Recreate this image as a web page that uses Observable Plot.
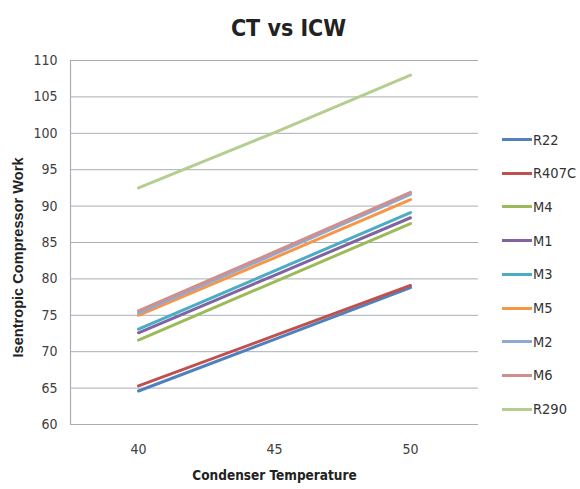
<!DOCTYPE html>
<html>
<head>
<meta charset="utf-8">
<script src="https://cdn.jsdelivr.net/npm/d3@7"></script>
<script src="https://cdn.jsdelivr.net/npm/@observablehq/plot@0.6"></script>
<style>
  html, body { margin: 0; padding: 0; background: #fff; }
  #wrap { position: relative; width: 580px; height: 489px; overflow: hidden; }
  #wrap svg { position: absolute; left: 0; top: 0; }
  .leg { position: absolute; left: 502px; font-family: "Liberation Sans Narrow", "DejaVu Sans Condensed", sans-serif; font-size: 14.5px; color: #333; display: flex; align-items: center; }
  .leg span.sw { display: inline-block; width: 30px; height: 3px; margin-right: 1px; }
</style>
</head>
<body>
<div id="wrap"></div>
<script>
const temps = [40, 45, 50];
const seriesNames = ["R22", "R407C", "M4", "M1", "M3", "M5", "M2", "M6", "R290"];
const R22   = [64.6, 71.7, 78.8];
const R407C = [65.3, 72.2, 79.1];
const M4    = [71.6, 79.6, 87.6];
const M1    = [72.6, 80.5, 88.4];
const M3    = [73.1, 81.1, 89.1];
const M5    = [75.0, 82.9, 90.9];
const M2    = [75.3, 83.4, 91.6];
const M6    = [75.6, 83.7, 91.9];
const R290  = [92.5, 100.1, 108.0];
const yTicks = [60, 65, 70, 75, 80, 85, 90, 95, 100, 105, 110];
const xTicks = [40, 45, 50];
const colors = ["#4f81bd", "#c0504d", "#9bbb59", "#8064a2", "#4bacc6", "#f79646", "#8faad2", "#cf8f8d", "#b6cd90"];

const valuesBySeries = [R22, R407C, M4, M1, M3, M5, M2, M6, R290];
const rows = [];
seriesNames.forEach((s, i) => valuesBySeries[i].forEach((v, j) => rows.push({series: s, t: temps[j], v})));

const narrow = '"Liberation Sans Narrow", "DejaVu Sans Condensed", sans-serif';

const chart = Plot.plot({
  width: 580,
  height: 489,
  marginLeft: 70,
  marginRight: 102,
  marginTop: 60,
  marginBottom: 65,
  style: {fontFamily: narrow, fontSize: "14px", color: "#404040", background: "transparent"},
  x: {domain: [37.5, 52.5], ticks: xTicks, tickSize: 0, tickPadding: 20, label: null, tickFormat: d => String(d)},
  y: {domain: [60, 110], ticks: yTicks, tickSize: 0, tickPadding: 13, label: null},
  color: {domain: seriesNames, range: colors},
  marks: [
    Plot.gridY(yTicks.filter(d => d > 60), {stroke: "#a9adb5", strokeOpacity: 1, strokeWidth: 1}),
    Plot.ruleY([60], {stroke: "#a9adb5", strokeWidth: 1.2}),
    Plot.ruleX([37.5], {stroke: "#a9adb5", strokeWidth: 1.2}),
    Plot.line(rows, {x: "t", y: "v", z: "series", stroke: "series", strokeWidth: 3, curve: "linear"}),
    Plot.text(["CT vs ICW"], {frameAnchor: "top", dx: 14, dy: -41, fontSize: 23, fontWeight: "bold", fill: "#222", fontFamily: narrow}),
    Plot.text(["Condenser Temperature"], {frameAnchor: "bottom", dy: 55, fontSize: 13.5, fontWeight: "bold", fill: "#222", fontFamily: narrow}),
    Plot.text(["Isentropic Compressor Work"], {frameAnchor: "left", textAnchor: "middle", rotate: -90, dx: -52, dy: 15, fontSize: 14.6, fontWeight: "bold", fill: "#222", fontFamily: '"Liberation Sans", Arial, sans-serif'})
  ]
});
const wrap = document.getElementById("wrap");
wrap.appendChild(chart);

seriesNames.forEach((s, i) => {
  const d = document.createElement("div");
  d.className = "leg";
  d.style.top = (139.5 + i * 33.7 - 10) + "px";
  d.style.height = "20px";
  d.innerHTML = `<span class="sw" style="background:${colors[i]}"></span><span>${s}</span>`;
  wrap.appendChild(d);
});
</script>
</body>
</html>
